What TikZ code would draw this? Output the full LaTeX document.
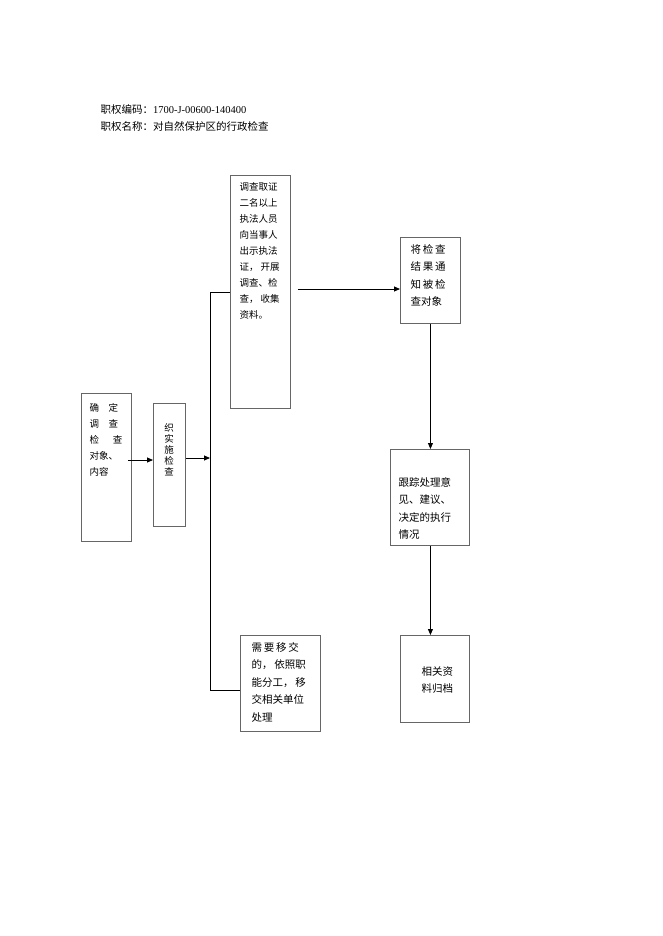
\documentclass[tikz,border=0pt]{standalone}
\usepackage{fontspec}
\setmainfont{Liberation Serif}
\newfontfamily\cjk{Noto Sans CJK SC}
\usetikzlibrary{arrows.meta}
\tikzset{
  box/.style={draw=black!60, line width=0.9pt, anchor=north west, inner sep=0pt},
  txt/.style={font=\cjk\fontsize{9.5}{16}\selectfont, align=left, anchor=north west},
  link/.style={line width=0.8pt},
  arr/.style={link, -{Triangle[length=6pt,width=5pt]}}
}
\begin{document}
\begin{tikzpicture}[x=1pt,y=-1pt]
  \useasboundingbox (0,0) rectangle (662,936);

  \node[txt, font=\cjk\fontsize{10.5}{17}\selectfont] (head) at (97,101) {职权编码：{\rmfamily 1700-J-00600-140400}\\职权名称：对自然保护区的行政检查};

  % boxes
  \node[box, minimum width=50pt, minimum height=148pt] (fix) at (81,393) {};
  \node[txt] at (86,400) {确\quad 定\\调\quad 查\\检\quad\ \ 查\\对象、\\内容};
  \node[box, minimum width=32pt, minimum height=123pt] (org) at (153,403) {};
  \node[txt, align=center, anchor=north] at (169,420) {织\\[-5pt]实\\[-5pt]施\\[-5pt]检\\[-5pt]查};
  \node[box, minimum width=60pt, minimum height=233pt] (proof) at (230,175) {};
  \node[txt] at (236,179) {调查取证\\二名以上\\执法人员\\向当事人\\出示执法\\证，\ 开展\\调查、检\\查，\ 收集\\资料。};
  \node[box, minimum width=80pt, minimum height=96pt] (move) at (240,635) {};
  \node[txt, font=\cjk\fontsize{10.5}{17.5}\selectfont] at (248,639) {需\,要\,移\,交\\的，\,依照职\\能分工，\,移\\交相关单位\\处理};
  \node[box, minimum width=60pt, minimum height=86pt] (tell) at (400,237) {};
  \node[txt, font=\cjk\fontsize{10.5}{17.5}\selectfont] at (407,241) {将\,检\,查\\结\,果\,通\\知\,被\,检\\查对象};
  \node[box, minimum width=79pt, minimum height=96pt] (track) at (390,449) {};
  \node[txt, font=\cjk\fontsize{10.5}{17.5}\selectfont] at (395,474) {跟踪处理意\\见、建议、\\决定的执行\\情况};
  \node[box, minimum width=69pt, minimum height=87pt] (file) at (400,635) {};
  \node[txt, font=\cjk\fontsize{10.5}{17.5}\selectfont] at (418,663) {相关资\\料归档};

  % connectors
  \coordinate (top) at (210,292);
  \coordinate (mid) at (210,458);
  \coordinate (bot) at (210,690);
  \draw[arr] ([xshift=-4pt]fix.east |- 0,460) -- (org.west |- 0,460);
  \draw[arr] (org.east |- mid) -- (mid);
  \draw[link] (proof.west |- top) -- (top) -- (bot) -- (move.west |- bot);
  \draw[arr] ([xshift=7pt]proof.east |- 0,289) -- (tell.west |- 0,289);
  \draw[arr] (tell.south) -- (track.north -| tell.south);
  \draw[arr] (track.south -| tell.south) -- (file.north -| tell.south);
\end{tikzpicture}
\end{document}
